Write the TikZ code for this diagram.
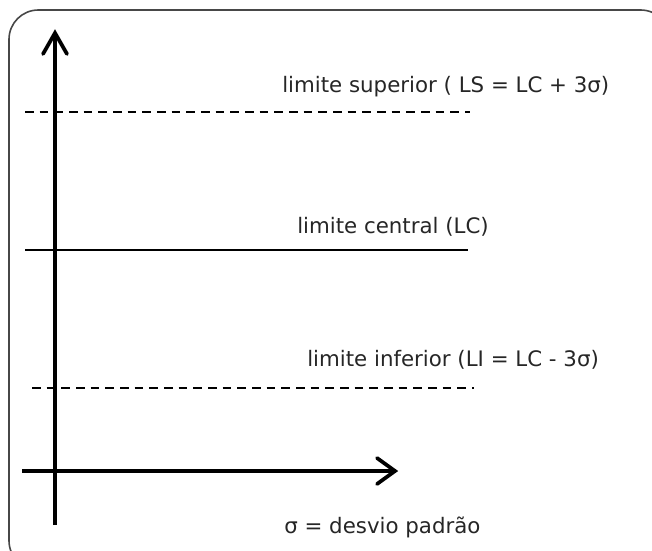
\documentclass[tikz,border=0pt]{standalone}
\usepackage{fontspec}
\setmainfont{DejaVu Sans}
\usetikzlibrary{calc}
\begin{document}
\begin{tikzpicture}[x=0.75pt,y=-0.75pt,
  axis/.style={line width=2.8pt},
  chev/.style={line width=2.8pt,line cap=round,line join=miter},
  lvl/.style={line width=1.3pt},
  dlvl/.style={line width=1.3pt,dash pattern=on 6.5pt off 4.5pt},
  lbl/.style={font=\fontsize{16pt}{18pt}\selectfont,text=black!85,inner sep=0pt,anchor=west}]
\useasboundingbox (0,0) rectangle (652,550);
\begin{scope}
\clip (0,0) rectangle (652,550);
\draw[line width=1.2pt,draw=black!72,rounded corners=22pt] (9,10) rectangle (670,570);
\end{scope}
% axes
\coordinate (ybot) at (55,525);
\coordinate (ytop) at (55,33);
\coordinate (xleft) at (22,471);
\coordinate (xright) at (395,471);
\draw[axis] (ybot) -- (ytop);
\draw[chev] ($(ytop)+(-12,21)$) -- (ytop) -- ($(ytop)+(12,21)$);
\draw[axis] (xleft) -- (xright);
\draw[chev] ($(xright)+(-18,-13)$) -- (xright) -- ($(xright)+(-18,13)$);
% level lines
\coordinate (s1) at (25,112); \coordinate (s2) at (470,112);
\coordinate (c1) at (25,250); \coordinate (c2) at (468,250);
\coordinate (i1) at (32,388); \coordinate (i2) at (474,388);
\draw[dlvl] (s1) -- (s2);
\draw[lvl] (c1) -- (c2);
\draw[dlvl] (i1) -- (i2);
% labels
\node[lbl] (ls) at (282,87) {limite superior ( LS = LC + 3σ)};
\node[lbl] (lc) at (297,227) {limite central (LC)};
\node[lbl] (li) at (307,360) {limite inferior (LI = LC - 3σ)};
\node[lbl] (sd) at (284,527) {σ = desvio padrão};
\end{tikzpicture}
\end{document}
